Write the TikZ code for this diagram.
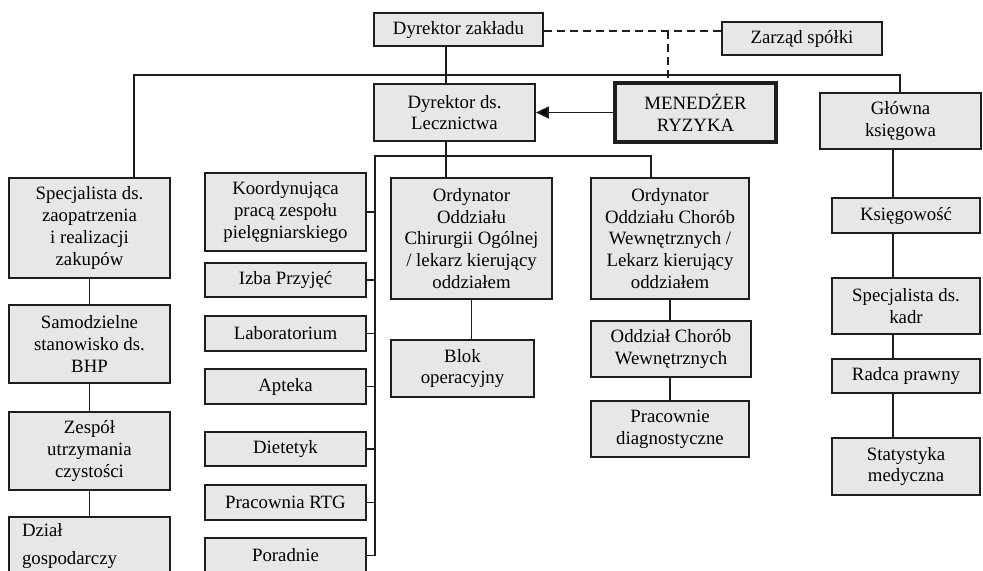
\documentclass[tikz,border=0pt]{standalone}
\usepackage{fontspec}
\setmainfont{Liberation Serif}
\usetikzlibrary{arrows.meta}
\definecolor{boxgray}{RGB}{231,231,231}
\definecolor{linegray}{RGB}{30,30,30}
\tikzset{
  box/.style={draw=linegray, fill=boxgray, line width=0.9pt, inner sep=0pt, align=center,
    font=\fontsize{9.4}{10.9}\selectfont},
  riskbox/.style={box, line width=1.6pt},
  link/.style={draw=linegray, line width=0.9pt},
  dashlink/.style={draw=linegray, line width=0.8pt, dash pattern=on 4pt off 2.5pt}
}
\begin{document}
\begin{tikzpicture}[x=0.5pt, y=-0.5pt]
    \useasboundingbox (0,0) rectangle (983,570);

    % top level
    \node[box, minimum width=84.5pt, minimum height=16.5pt] (dz) at (458.5,29.5){Dyrektor zakładu};
    \node[box, minimum width=80pt, minimum height=16.5pt] (zarzad) at (802,38.5){Zarząd spółki};
    \node[box, minimum width=80.5pt, minimum height=28.5pt] (dl) at (454.5,112.5){Dyrektor ds.\\Lecznictwa};
    \node[riskbox, minimum width=80.5pt, minimum height=29.5pt] (mr) at (695.5,112.5){MENEDŻER\\RYZYKA};
    \node[box, minimum width=80.5pt, minimum height=28pt] (gk) at (900.5,121){Główna\\księgowa};

    % left column
    \node[box, minimum width=80.5pt, minimum height=50pt] (spz) at (89.5,228){Specjalista ds.\\zaopatrzenia\\i realizacji\\zakupów};
    \node[box, minimum width=80.5pt, minimum height=39pt] (bhp) at (89.5,344){Samodzielne\\stanowisko ds.\\BHP};
    \node[box, minimum width=80.5pt, minimum height=39pt] (zuc) at (89.5,451){Zespół\\utrzymania\\czystości};
    \node[box, align=left, text width=67.5pt, inner xsep=6.5pt, minimum height=29pt] (dg) at (89.5,546){Dział\\[3pt]gospodarczy};

    % units under the medical director
    \node[box, minimum width=80.5pt, minimum height=39pt] (koord) at (285.5,212){Koordynująca\\pracą zespołu\\pielęgniarskiego};
    \node[box, minimum width=80.5pt, minimum height=17pt] (izba) at (285.5,280){Izba Przyjęć};
    \node[box, minimum width=80.5pt, minimum height=17.5pt] (lab) at (285.5,333.5){Laboratorium};
    \node[box, minimum width=80.5pt, minimum height=17.5pt] (apteka) at (285.5,386.5){Apteka};
    \node[box, minimum width=80.5pt, minimum height=17pt] (diet) at (285.5,449){Dietetyk};
    \node[box, minimum width=80.5pt, minimum height=17.5pt] (rtg) at (285.5,502.5){Pracownia RTG};
    \node[box, minimum width=80.5pt, minimum height=17.5pt] (poradnie) at (285.5,555.5){Poradnie};

    \node[box, minimum width=80.5pt, minimum height=60.5pt] (ord1) at (471.5,238.5){Ordynator\\Oddziału\\Chirurgii Ogólnej\\/ lekarz kierujący\\oddziałem};
    \node[box, minimum width=71.5pt, minimum height=28.5pt] (blok) at (462.5,368.5){Blok\\operacyjny};
    \node[box, minimum width=79pt, minimum height=60.5pt] (ord2) at (670,238.5){Ordynator\\Oddziału Chorób\\Wewnętrznych /\\Lekarz kierujący\\oddziałem};
    \node[box, minimum width=80pt, minimum height=28pt] (ocw) at (671,349){Oddział Chorób\\Wewnętrznych};
    \node[box, minimum width=79pt, minimum height=28pt] (pd) at (670,429){Pracownie\\diagnostyczne};

    % right column
    \node[box, minimum width=74pt, minimum height=17.5pt] (ksieg) at (906,215.5){Księgowość};
    \node[box, minimum width=74pt, minimum height=28pt] (kadr) at (906,306){Specjalista ds.\\kadr};
    \node[box, minimum width=74pt, minimum height=17pt] (radca) at (906,376){Radca prawny};
    \node[box, minimum width=74pt, minimum height=28.5pt] (stat) at (906,466.5){Statystyka\\medyczna};

    \coordinate (trunk) at (446,75);
    \coordinate (busL) at (134,75);
    \coordinate (busR) at (900,75);
    \coordinate (dashj) at (668,31);
    \coordinate (busM) at (375,156);
    \coordinate (busO) at (651,156);
    \coordinate (busK) at (893,150);

    \draw[link] (trunk |- dz.south) -- (trunk |- dl.north);
    \draw[link] (busL |- spz.north) -- (busL) -- (busR) -- (busR |- gk.north);
    \draw[dashlink] (dz.east |- dashj) -- (dashj -| zarzad.west);
    \draw[dashlink] (dashj) -- (dashj |- mr.north);
    \draw[link] (mr) edge[-{Triangle[length=6.5pt,width=6pt]}] (dl);
    \draw[link] (trunk |- dl.south) -- (trunk |- ord1.north);
    \draw[link] (busM |- poradnie.east) -- (busM) -- (busO) -- (busO |- ord2.north);
    \foreach \n in {koord,izba,lab,apteka,diet,rtg,poradnie}
      \draw[link] (\n.east) -- (\n.east -| busM);

    \draw[link] (spz) -- (bhp);
    \draw[link] (bhp) -- (zuc);
    \draw[link] (zuc) -- (dg);
    \draw[link] (ord1.south) -- (ord1.south |- blok.north);
    \draw[link] (ord2.south) -- (ord2.south |- ocw.north);
    \draw[link] (ocw.south -| pd) -- (pd.north);
    \draw[link] (busK |- gk.south) -- (busK |- ksieg.north);
    \draw[link] (busK |- ksieg.south) -- (busK |- kadr.north);
    \draw[link] (busK |- kadr.south) -- (busK |- radca.north);
    \draw[link] (busK |- radca.south) -- (busK |- stat.north);
  \end{tikzpicture}
\end{document}
